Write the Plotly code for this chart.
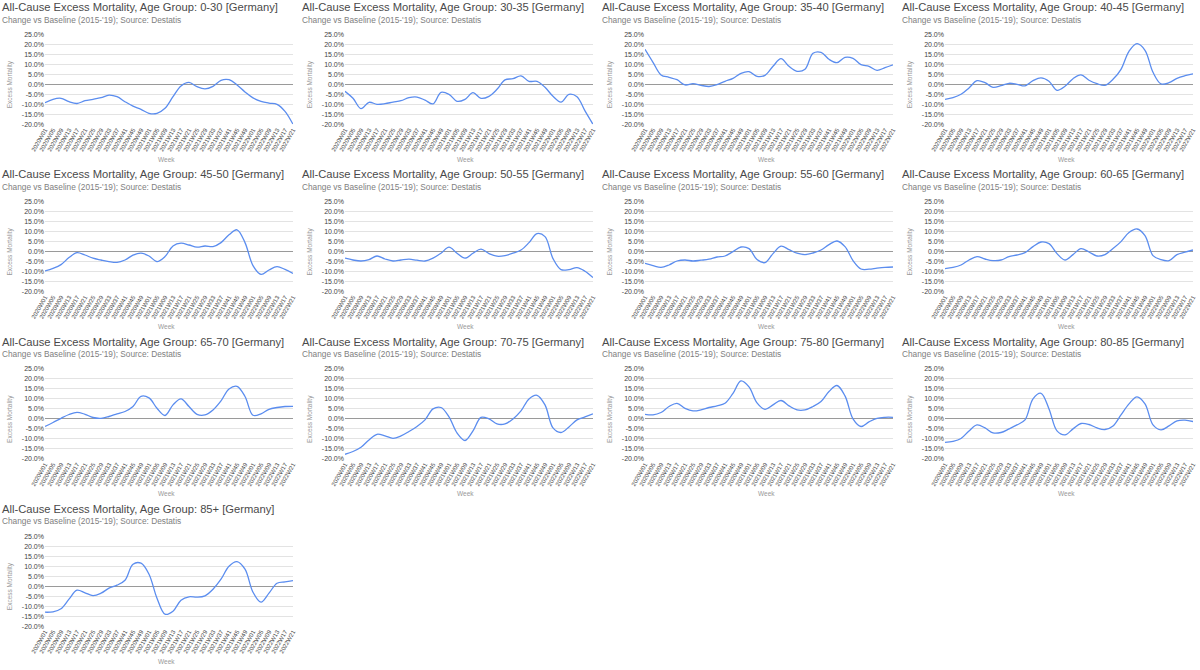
import plotly.graph_objects as go

weeks = ["2020W01", "2020W05", "2020W09", "2020W13", "2020W17", "2020W21", "2020W25", "2020W29",
         "2020W33", "2020W37", "2020W41", "2020W45", "2020W49", "2021W01", "2021W05", "2021W09",
         "2021W13", "2021W17", "2021W21", "2021W25", "2021W29", "2021W33", "2021W37", "2021W41",
         "2021W45", "2021W49", "2022W01", "2022W05", "2022W09", "2022W13", "2022W17", "2022W21"]

age_groups = ["0-30", "30-35", "35-40", "40-45", "45-50", "50-55", "55-60", "60-65",
              "65-70", "70-75", "75-80", "80-85", "85+"]

v_0_30 = [-9.2, -7.5, -7.0, -8.7, -9.6, -8.2, -7.5, -6.7, -5.4, -6.2, -8.7, -10.9, -12.5, -14.5, -14.5, -12.0,
          -6.2, -0.8, 1.0, -1.2, -2.3, -1.0, 2.0, 2.3, -0.3, -3.8, -6.8, -8.5, -9.4, -10.0, -13.5, -20.0]
v_30_35 = [-3.5, -7.0, -12.2, -9.0, -10.0, -9.7, -8.9, -8.2, -6.7, -6.4, -7.9, -9.8, -4.0, -5.0, -8.5, -7.5,
           -4.2, -7.0, -6.0, -2.5, 2.2, 2.8, 4.2, 1.5, 1.5, -1.5, -6.0, -8.9, -5.0, -6.2, -13.3, -20.0]
v_35_40 = [17.5, 11.0, 4.7, 3.5, 2.3, -0.3, 0.3, -0.5, -1.1, -0.2, 1.5, 3.0, 5.5, 6.3, 4.0, 4.5,
           9.0, 12.8, 9.0, 6.5, 7.5, 15.5, 16.0, 12.5, 10.8, 13.5, 13.0, 9.8, 9.0, 7.0, 8.3, 9.7]
v_40_45 = [-7.5, -6.7, -5.0, -1.8, 1.8, 0.8, -1.5, -0.7, 0.5, 0.0, -0.8, 1.8, 3.2, 1.5, -3.0, -1.0,
           2.8, 4.7, 2.0, 0.3, -0.5, 2.5, 7.5, 16.5, 20.3, 17.0, 6.0, 0.2, 0.8, 3.0, 4.3, 5.2]
v_45_50 = [-9.7, -8.4, -6.5, -3.0, -0.5, -1.7, -3.3, -4.2, -5.0, -5.4, -4.2, -1.8, -0.8, -2.2, -5.0, -2.5,
           2.8, 4.2, 3.3, 2.2, 2.8, 2.5, 4.5, 8.4, 10.9, 4.5, -7.0, -11.4, -9.2, -7.5, -8.9, -10.9]
v_50_55 = [-3.3, -4.2, -4.7, -4.0, -2.2, -3.7, -4.7, -4.2, -3.8, -4.3, -4.7, -3.3, -0.8, 2.2, -0.8, -3.3,
           -0.8, 1.2, -1.0, -2.3, -2.0, -0.8, 0.8, 4.5, 9.0, 7.5, -3.5, -9.0, -9.0, -8.0, -9.8, -13.0]
v_55_60 = [-5.9, -7.0, -7.9, -6.7, -4.7, -4.2, -4.7, -4.3, -3.8, -2.7, -2.2, 0.0, 2.3, 1.5, -4.0, -5.5,
           -1.0, 2.7, 1.0, -0.8, -1.5, -0.7, 0.8, 3.5, 5.3, 2.5, -4.5, -8.7, -8.8, -8.3, -7.9, -7.7]
v_60_65 = [-8.5, -7.9, -6.7, -4.2, -2.5, -3.7, -4.5, -4.2, -2.5, -1.7, -0.5, 2.5, 4.8, 4.0, -1.0, -4.2,
           -1.5, 1.5, -0.2, -2.2, -1.5, 1.5, 5.0, 9.5, 11.3, 8.0, -2.0, -4.0, -4.5, -1.5, -0.3, 0.8]
v_65_70 = [-3.8, -1.8, 0.3, 2.2, 3.3, 2.3, 0.7, 0.3, 1.2, 2.5, 3.7, 6.2, 11.3, 10.5, 5.3, 1.7,
           7.0, 10.0, 6.2, 2.3, 2.0, 4.5, 9.0, 15.0, 16.3, 11.2, 1.8, 2.5, 4.8, 5.7, 6.2, 6.3]
v_70_75 = [-17.7, -16.3, -14.2, -10.5, -7.7, -8.5, -9.7, -8.5, -6.3, -3.8, -0.5, 5.0, 5.7, 1.0, -7.0, -10.8,
           -6.0, 0.8, 0.0, -2.5, -2.5, 0.0, 4.0, 10.0, 11.8, 7.0, -4.5, -6.8, -4.0, -0.5, 1.0, 2.5]
v_75_80 = [2.3, 2.0, 3.2, 6.2, 7.8, 5.3, 4.0, 4.5, 5.7, 6.5, 7.8, 12.8, 19.0, 16.0, 8.0, 4.8,
           7.0, 9.2, 6.5, 4.5, 4.5, 6.2, 8.7, 13.7, 16.7, 11.5, 0.0, -3.8, -1.5, 0.3, 0.8, 0.8]
v_80_85 = [-11.7, -11.2, -9.8, -6.0, -3.0, -4.5, -7.0, -6.8, -5.0, -3.0, -0.5, 10.0, 12.8, 5.0, -6.0, -8.0,
           -5.0, -2.3, -2.8, -4.5, -5.3, -3.5, 2.0, 7.5, 11.0, 7.5, -3.0, -5.5, -3.5, -1.0, -0.6, -1.3]
v_85_plus = [-13.0, -12.8, -11.3, -6.5, -2.0, -3.3, -4.7, -3.5, -1.0, 0.5, 3.0, 11.0, 11.5, 6.0, -6.0, -14.0,
             -12.5, -7.0, -5.3, -5.5, -4.8, -1.5, 3.5, 10.0, 12.3, 8.5, -3.0, -8.0, -3.5, 1.5, 2.2, 2.8]

series = [v_0_30, v_30_35, v_35_40, v_40_45, v_45_50, v_50_55, v_55_60, v_60_65,
          v_65_70, v_70_75, v_75_80, v_80_85, v_85_plus]

y_ticks = [-20, -15, -10, -5, 0, 5, 10, 15, 20, 25]
y_tick_text = [f"{v:.1f}%" for v in y_ticks]

W, H = 1200, 670
COL_W = 300
ROW_H = 167.3
PLOT_L, PLOT_R = 45, 293
PLOT_TOP0, PLOT_H = 34.3, 90
FONT = "Arial, Liberation Sans, sans-serif"

fig = go.Figure()
layout = dict(
    width=W, height=H,
    margin=dict(l=0, r=0, t=0, b=0),
    paper_bgcolor="white", plot_bgcolor="white",
    showlegend=False,
    font=dict(family=FONT, color="#444444"),
)
annotations = []

for i, (grp, vals) in enumerate(zip(age_groups, series)):
    col, row = i % 4, i // 4
    n = i + 1
    xa = "x" if n == 1 else f"x{n}"
    ya = "y" if n == 1 else f"y{n}"
    fig.add_trace(go.Scatter(
        x=weeks, y=vals, mode="lines",
        line=dict(color="#5b8def", width=1.3, shape="spline", smoothing=1.0),
        xaxis=xa, yaxis=ya, hoverinfo="skip",
    ))
    x0 = (col * COL_W + PLOT_L) / W
    x1 = (col * COL_W + PLOT_R) / W
    top = PLOT_TOP0 + row * ROW_H
    bot = top + PLOT_H
    layout[f"xaxis{n if n > 1 else ''}"] = dict(
        domain=[x0, x1], anchor=ya, type="category",
        range=[0, len(weeks) - 1],
        tickmode="array", tickvals=weeks, ticktext=weeks,
        tickangle=-60, tickfont=dict(size=6, color="#444444", family=FONT),
        showgrid=False, showline=False, zeroline=False, ticks="",
        automargin=False, fixedrange=True,
    )
    layout[f"yaxis{n if n > 1 else ''}"] = dict(
        domain=[1 - bot / H, 1 - top / H], anchor=xa,
        range=[-20, 25], tickmode="array", tickvals=y_ticks, ticktext=y_tick_text,
        tickfont=dict(size=7, color="#444444", family=FONT),
        showgrid=True, gridcolor="#e3e3e3", gridwidth=1,
        zeroline=True, zerolinecolor="#9a9a9a", zerolinewidth=1.3,
        showline=False, ticks="", automargin=False, fixedrange=True,
    )
    ty = 7 + row * ROW_H
    annotations.append(dict(
        text=f"All-Cause Excess Mortality, Age Group: {grp} [Germany]",
        xref="paper", yref="paper", x=(col * COL_W) / W, y=1 - ty / H,
        xanchor="left", yanchor="middle", showarrow=False,
        font=dict(size=11.2, color="#4a4a4a", family=FONT),
    ))
    annotations.append(dict(
        text="Change vs Baseline (2015-'19); Source: Destatis",
        xref="paper", yref="paper", x=(col * COL_W) / W, y=1 - (ty + 12.5) / H,
        xanchor="left", yanchor="middle", showarrow=False,
        font=dict(size=8.3, color="#808080", family=FONT),
    ))
    annotations.append(dict(
        text="Week", xref="paper", yref="paper",
        x=(col * COL_W + 166) / W, y=1 - (bot + 35) / H,
        xanchor="center", yanchor="middle", showarrow=False,
        font=dict(size=6.5, color="#999999", family=FONT),
    ))
    annotations.append(dict(
        text="Excess Mortality", xref="paper", yref="paper",
        x=(col * COL_W + 10) / W, y=1 - ((top + bot) / 2 + 5) / H,
        xanchor="center", yanchor="middle", showarrow=False, textangle=-90,
        font=dict(size=6.5, color="#999999", family=FONT),
    ))

layout["annotations"] = annotations
fig.update_layout(**layout)
fig.write_html("out.html", config={"displayModeBar": False},
               post_script="document.body.style.margin='0px';")
